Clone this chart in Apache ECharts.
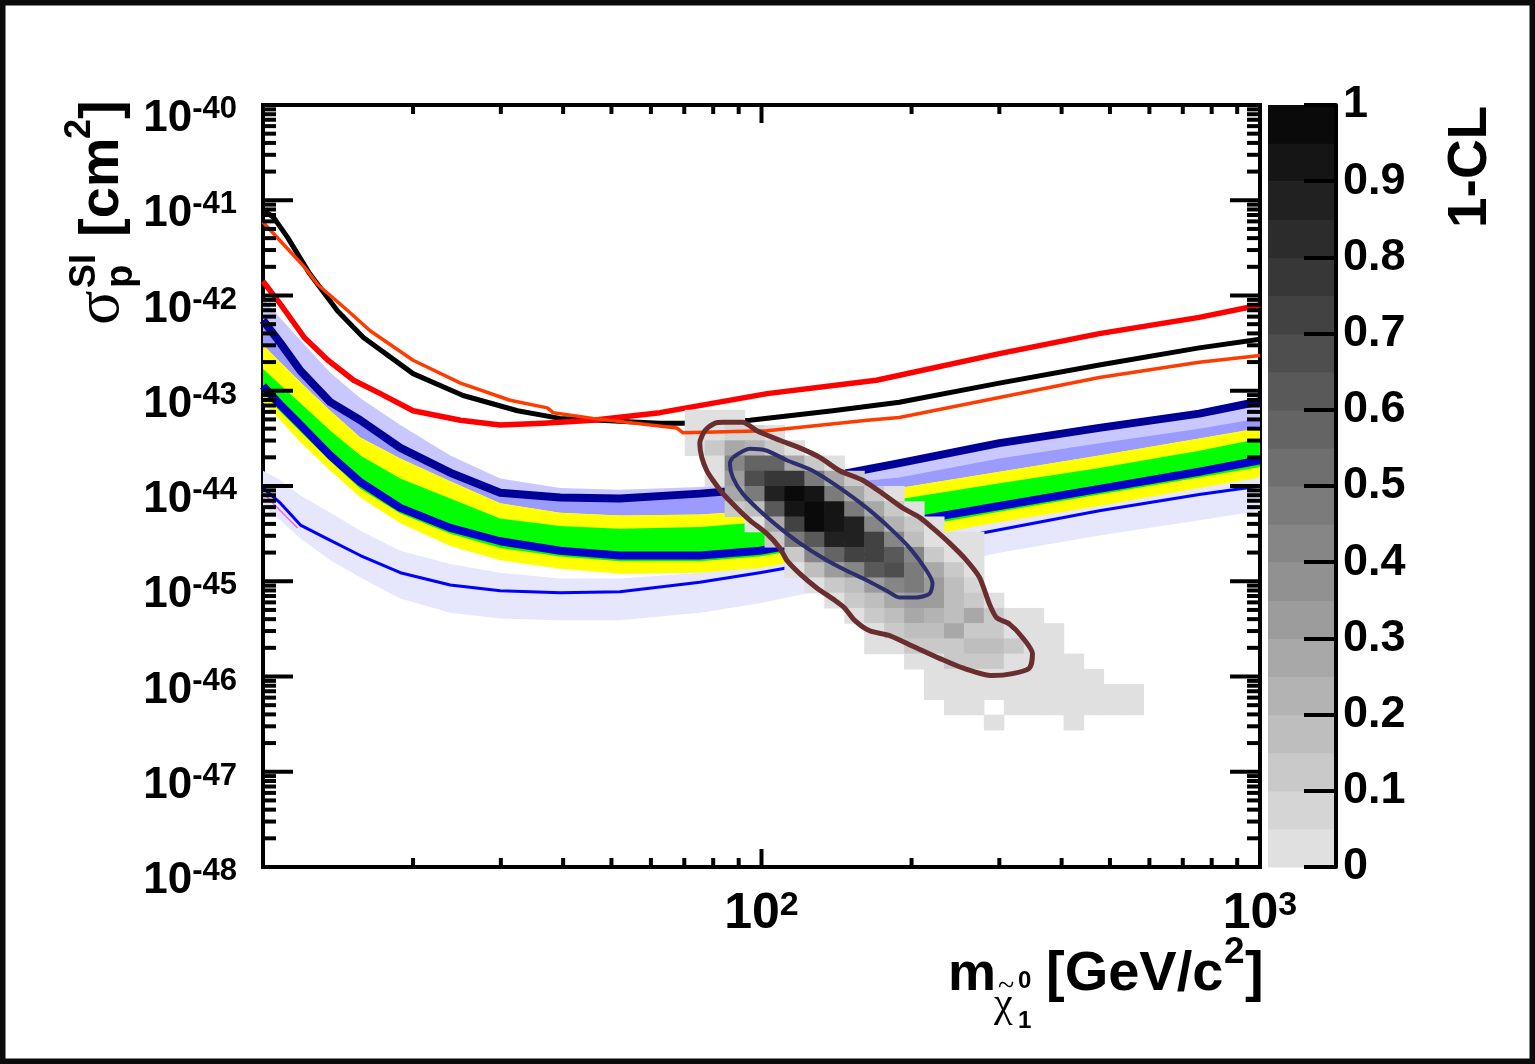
<!DOCTYPE html>
<html><head><meta charset="utf-8">
<script src="https://cdn.jsdelivr.net/npm/echarts@6/dist/echarts.min.js"></script>
<style>html,body{margin:0;padding:0;background:#fff;}#c{width:1535px;height:1064px;}</style>
</head><body><div id="c"></div>
<script>
// ---------------- DATA ----------------
// masses (GeV/c^2) at which the band edges are sampled
const bandMass = [10, 10.84, 11.89, 13.65, 15.68, 18.86, 23.75, 29.91, 39.45, 52.0, 75.2, 99.2, 137, 189, 300, 476, 755, 1000];
// log10(sigma / cm^2) of band edges / lines along bandMass
const lavenderTop   = [-42.03,-42.24,-42.47,-42.81,-43.08,-43.36,-43.68,-43.92,-44.02,-44.04,-44.01,-43.95,-43.86,-43.73,-43.52,-43.35,-43.21,-43.08];
const navyLine      = [-42.26,-42.50,-42.79,-43.12,-43.31,-43.60,-43.86,-44.07,-44.12,-44.13,-44.08,-44.03,-43.90,-43.76,-43.55,-43.39,-43.24,-43.11];
const periwinkleTop = [-42.26,-42.50,-42.79,-43.12,-43.31,-43.60,-43.86,-44.07,-44.12,-44.13,-44.08,-44.03,-43.98,-43.91,-43.71,-43.55,-43.40,-43.29];
const yellowTop     = [-42.52,-42.70,-42.91,-43.21,-43.49,-43.71,-43.95,-44.18,-44.28,-44.31,-44.30,-44.26,-44.15,-44.02,-43.85,-43.68,-43.50,-43.39];
const greenTop      = [-42.77,-42.94,-43.13,-43.42,-43.68,-43.92,-44.13,-44.34,-44.42,-44.45,-44.43,-44.38,-44.28,-44.14,-43.97,-43.81,-43.63,-43.50];
const blueLine      = [-42.95,-43.15,-43.36,-43.68,-43.96,-44.23,-44.44,-44.58,-44.68,-44.73,-44.73,-44.68,-44.55,-44.39,-44.21,-44.03,-43.85,-43.73];
const greenBottom   = [-43.02,-43.22,-43.43,-43.74,-44.03,-44.29,-44.50,-44.65,-44.74,-44.79,-44.79,-44.74,-44.62,-44.46,-44.27,-44.09,-43.91,-43.80];
const yellowBottom  = [-43.12,-43.31,-43.54,-43.84,-44.12,-44.39,-44.63,-44.78,-44.87,-44.92,-44.91,-44.86,-44.73,-44.57,-44.38,-44.21,-44.02,-43.91];
const thinBlueLine  = [-44.02,-44.18,-44.41,-44.57,-44.73,-44.91,-45.04,-45.10,-45.12,-45.11,-45.01,-44.91,-44.78,-44.66,-44.46,-44.26,-44.09,-44.00];
const paleTop       = [-43.84,-43.94,-44.10,-44.28,-44.47,-44.68,-44.82,-44.91,-44.97,-44.97,-44.91,-44.84,-44.68,-44.55,-44.36,-44.15,-43.94,-43.86];
const paleBottom    = [-44.21,-44.36,-44.55,-44.78,-44.96,-45.18,-45.33,-45.39,-45.41,-45.41,-45.33,-45.23,-45.08,-44.92,-44.70,-44.52,-44.36,-44.26];

const magentaMass = [10, 10.84, 11.73];
const magentaLog  = [-44.07, -44.26, -44.44];

const redMass = [10.0,10.8,12.1,13.5,15.2,17.2,20.0,24.9,29.9,36.5,45.9,62.5,102.6,170,300,476,755,1000];
const redLog  = [-41.85,-42.08,-42.44,-42.68,-42.89,-43.03,-43.21,-43.31,-43.36,-43.34,-43.31,-43.23,-43.03,-42.89,-42.61,-42.40,-42.23,-42.10];
const blackMass = [10.0,10.5,11.2,12.4,14.1,15.9,20.0,25.2,32.4,39.4,62.5,69.5,94.8,139,189,300,476,755,1000];
const blackLog  = [-41.10,-41.18,-41.39,-41.77,-42.16,-42.44,-42.82,-43.05,-43.21,-43.29,-43.34,-43.34,-43.31,-43.21,-43.12,-42.92,-42.73,-42.55,-42.46];
const orangeMass = [10.0,10.8,12.1,12.9,14.8,16.4,20.0,24.9,31.3,37.2,38.2,45.9,67.6,69.5,102.6,163,189,300,476,755,1000];
const orangeLog  = [-41.23,-41.42,-41.70,-41.89,-42.16,-42.37,-42.68,-42.92,-43.10,-43.18,-43.23,-43.29,-43.39,-43.44,-43.42,-43.31,-43.28,-43.07,-42.86,-42.70,-42.63];

// contours (mass, log10 sigma)
const brownMass = [83.7,91.7,97.9,108.8,119.3,130.9,143.5,159.6,175.0,191.9,207.5,220.3,238.4,257.8,273.7,286.6,296.0,314.4,333.8,349.6,344.8,318.8,290.6,253.1,227.6,202.8,180.7,164.8,153.8,146.8,140.3,129.1,119.3,112.4,108.8,102.5,94.8,89.2,83.7,79.9,77.7,75.9,75.2,77.0,80.6,83.7];
const brownLog  = [-43.33,-43.33,-43.42,-43.52,-43.60,-43.70,-43.84,-43.94,-44.08,-44.23,-44.33,-44.44,-44.60,-44.78,-44.96,-45.24,-45.38,-45.45,-45.59,-45.76,-45.91,-45.97,-45.99,-45.91,-45.81,-45.69,-45.57,-45.52,-45.41,-45.28,-45.20,-45.07,-44.92,-44.78,-44.65,-44.50,-44.36,-44.23,-44.08,-43.94,-43.84,-43.70,-43.55,-43.42,-43.34,-43.33];
const innerMass = [87.6,94.8,102.5,112.4,126.7,143.5,162.6,180.7,198.2,214.4,220.3,217.4,204.7,189.2,178.2,162.6,148.2,135.1,119.3,108.8,99.2,91.7,87.6,86.4,87.6];
const innerLog  = [-43.70,-43.61,-43.63,-43.73,-43.84,-44.02,-44.23,-44.44,-44.65,-44.89,-45.02,-45.13,-45.17,-45.17,-45.10,-44.99,-44.89,-44.78,-44.60,-44.44,-44.26,-44.08,-43.91,-43.76,-43.70];

// 2D histogram of 1-CL: bins in log10(mass) and log10(sigma)
const histLogMass0 = 1.846, histLogMassStep = 0.04;
const histLogSigma0 = -43.2, histLogSigmaStep = 0.16;
const histRowStart = [0,0,0,1,1,2,2,3,4,5,5,6,7,8,9,9,11,12,12,13,15];
const histRows = [
 [0.03,0.03,0.03],
 [0.03,0.03,0.08,0.08,0.03],
 [0.03,0.13,0.28,0.23,0.13,0.03],
 [0.03,0.43,0.58,0.58,0.28,0.13,0.03],
 [0.03,0.33,0.68,0.78,0.78,0.48,0.28,0.13],
 [0.28,0.48,0.88,0.98,0.93,0.48,0.28,0.13,0.03],
 [0.13,0.18,0.63,0.93,0.98,0.93,0.48,0.28,0.13,0.03],
 [0.03,0.28,0.73,0.98,0.93,0.88,0.43,0.23,0.13,0.03],
 [0.13,0.48,0.63,0.88,0.88,0.73,0.43,0.18,0.03,0.03,0.03],
 [0.13,0.43,0.58,0.73,0.73,0.63,0.43,0.13,0.03,0.03],
 [0.03,0.18,0.33,0.43,0.63,0.68,0.48,0.28,0.13,0.03],
 [0.03,0.13,0.18,0.33,0.43,0.48,0.33,0.18,0.08],
 [0.03,0.13,0.18,0.28,0.33,0.33,0.18,0.13,0.03],
 [0.03,0.13,0.18,0.28,0.23,0.18,0.28,0.13,0.03,0.03],
 [0.03,0.13,0.18,0.18,0.28,0.13,0.13,0.03,0.03,0.03],
 [0.03,0.03,0.13,0.13,0.13,0.18,0.18,0.13,0.03,0.03],
 [0.03,0.03,0.13,0.13,0.13,0.03,0.03,0.03,0.03],
 [0.03,0.03,0.03,0.03,0.03,0.03,0.03,0.03,0.03],
 [0.03,0.03,0.03,0.03,0.03,0.03,0.03,0.03,0.03,0.03,0.03],
 [0.03,0.03,null,0.03,0.03,0.03,0.03,0.03,0.03,0.03],
 [0.03,null,null,null,0.03]
];

// axis ticks
const xMajorTicks = [10, 100, 1000];
const xMinorTicks = [20,30,40,50,60,70,80,90,200,300,400,500,600,700,800,900];
const yMajorExp = [-48,-47,-46,-45,-44,-43,-42,-41,-40];
const yMinorMult = [2,3,4,5,6,7,8,9];
const colorbarLevels = 20;

// ---------------- BUILD ----------------
const FONT = '"Liberation Sans", Arial, Helvetica, sans-serif';
const SERIF = '"Liberation Serif", "DejaVu Serif", serif';
const grays = [];
for (let k = 0; k < colorbarLevels; k++) {
  const g = Math.round(224 - k * 214 / (colorbarLevels - 1));
  grays.push('rgb(' + g + ',' + g + ',' + g + ')');
}
const p10 = v => Math.pow(10, v);
// y axis is drawn in log10(sigma) units, x axis is a log10 mass axis
const pairs = (ms, ls) => ms.map((m, i) => [m, ls[i]]);

function band(upper, lower, color, z) {
  return {
    type: 'custom', z: z, silent: true, clip: true,
    data: [[bandMass[0], upper[0]]],
    renderItem: function (params, api) {
      const pts = [];
      for (let i = 0; i < bandMass.length; i++) pts.push(api.coord([bandMass[i], upper[i]]));
      for (let i = bandMass.length - 1; i >= 0; i--) pts.push(api.coord([bandMass[i], lower[i]]));
      return { type: 'polygon', shape: { points: pts }, style: { fill: color } };
    }
  };
}
function line(data, color, width, z, smooth) {
  return { type: 'line', z: z, data: data, symbol: 'none', showSymbol: false, silent: true, smooth: smooth || false,
    lineStyle: { color: color, width: width, join: 'round', cap: 'butt' }, clip: true };
}

const histCells = [];
histRows.forEach((vals, r) => vals.forEach((v, j) => {
  if (v == null) return;
  const c = histRowStart[r] + j;
  histCells.push([
    p10(histLogMass0 + c * histLogMassStep), p10(histLogMass0 + (c + 1) * histLogMassStep),
    histLogSigma0 - r * histLogSigmaStep, histLogSigma0 - (r + 1) * histLogSigmaStep, v]);
}));

const yTickData = [];
yMajorExp.forEach(e => yTickData.push([10, e, 1]));
yMajorExp.slice(0, -1).forEach(e => yMinorMult.forEach(k => yTickData.push([10, e + Math.log10(k), 0])));
const xTickData = [];
xMajorTicks.forEach(v => xTickData.push([v, -44, 1]));
xMinorTicks.forEach(v => xTickData.push([v, -44, 0]));

const cbData = [];
for (let k = 0; k < colorbarLevels; k++) cbData.push([0, 1, k / colorbarLevels, (k + 1) / colorbarLevels, k]);

const chart = echarts.init(document.getElementById('c'), null, { renderer: 'canvas' });
const supRich = {
  b: { fontSize: 44, fontWeight: 'bold', fontFamily: FONT, color: '#000', lineHeight: 50 },
  s: { fontSize: 31, fontWeight: 'bold', fontFamily: FONT, color: '#000', lineHeight: 10, verticalAlign: 'top' }
};
const xRich = {
  b: { fontSize: 50, fontWeight: 'bold', fontFamily: FONT, color: '#000', lineHeight: 50 },
  s: { fontSize: 34, fontWeight: 'bold', fontFamily: FONT, color: '#000', lineHeight: 10, verticalAlign: 'top' }
};

const option = {
  animation: false,
  backgroundColor: '#fff',
  grid: [
    { left: 263, top: 105, width: 997, height: 762, show: true, borderColor: '#000', borderWidth: 4, backgroundColor: 'transparent' },
    { left: 1268, top: 105, width: 68, height: 762, show: false }
  ],
  xAxis: [
    { type: 'log', logBase: 10, min: 10, max: 1000, splitNumber: 2, gridIndex: 0,
      axisLine: { show: false }, axisTick: { show: false }, splitLine: { show: false }, minorTick: { show: false },
      axisLabel: { margin: 22, showMaxLabel: true, showMinLabel: true,
        formatter: v => { const e = Math.round(Math.log10(v)); return e === 1 ? '' : '{b|10}{s|' + e + '}'; },
        rich: xRich } },
    { type: 'value', min: 0, max: 1, gridIndex: 1, show: false }
  ],
  yAxis: [
    { type: 'value', min: -48, max: -40, interval: 1, gridIndex: 0,
      axisLine: { show: false }, axisTick: { show: false }, splitLine: { show: false },
      axisLabel: { margin: 26, padding: [28, 0, 0, 0], showMaxLabel: true, showMinLabel: true,
        formatter: v => '{b|10}{s|' + Math.round(v) + '}', rich: supRich } },
    { type: 'value', min: 0, max: 1, interval: 0.1, gridIndex: 1, position: 'right', z: 10,
      axisLine: { show: true, onZero: false, lineStyle: { color: '#000', width: 4 } },
      axisTick: { show: true, inside: true, length: 32, lineStyle: { color: '#000', width: 4 } },
      splitLine: { show: false },
      axisLabel: { margin: 7, padding: [10, 0, 0, 0], color: '#000', fontSize: 45, fontWeight: 'bold', fontFamily: FONT,
        showMaxLabel: true, showMinLabel: true,
        formatter: v => (Math.abs(v - 1) < 1e-9 ? '1' : (Math.abs(v) < 1e-9 ? '0' : v.toFixed(1))) } }
  ],
  series: [
    band(paleTop, paleBottom, '#e6e6fd', 1),
    band(lavenderTop, yellowTop, '#c8c8ff', 2),
    band(periwinkleTop, yellowTop, '#9a9aff', 3),
    band(yellowTop, yellowBottom, '#ffff00', 4),
    band(greenTop, greenBottom, '#00ff00', 5),
    line(pairs(magentaMass, magentaLog), '#ee66ee', 1.5, 6),
    line(pairs(bandMass, thinBlueLine), '#0000ff', 3, 7),
    line(pairs(bandMass, blueLine), '#0000cc', 8, 8),
    line(pairs(bandMass, navyLine), '#000099', 8, 9),
    line(pairs(blackMass, blackLog), '#000000', 5, 10),
    line(pairs(redMass, redLog), '#ff0000', 5.5, 11),
    { type: 'custom', z: 12, silent: true, clip: true, data: histCells, encode: { x: [0, 1], y: [2, 3] },
      renderItem: function (params, api) {
        const a = api.coord([api.value(0), api.value(2)]);
        const b = api.coord([api.value(1), api.value(3)]);
        const lvl = Math.min(colorbarLevels - 1, Math.floor(api.value(4) * colorbarLevels));
        return { type: 'rect', shape: { x: a[0], y: a[1], width: b[0] - a[0] + 0.6, height: b[1] - a[1] + 0.6 },
          style: { fill: grays[lvl] } };
      } },
    line(pairs(orangeMass, orangeLog), '#ff3c00', 3.5, 13),
    line(pairs(brownMass, brownLog), '#6a2e2e', 5, 14, 0.25),
    line(pairs(innerMass, innerLog), '#2e2e6c', 4, 15, 0.25),
    { type: 'custom', z: 20, silent: true, data: yTickData, encode: { x: 0, y: 1 },
      renderItem: function (params, api) {
        const cs = params.coordSys;
        const y = api.coord([api.value(0), api.value(1)])[1];
        const len = api.value(2) ? 30 : 13;
        const st = { stroke: '#000', lineWidth: 4 };
        return { type: 'group', children: [
          { type: 'line', shape: { x1: cs.x, y1: y, x2: cs.x + len, y2: y }, style: st },
          { type: 'line', shape: { x1: cs.x + cs.width, y1: y, x2: cs.x + cs.width - len, y2: y }, style: st }
        ] };
      } },
    { type: 'custom', z: 20, silent: true, data: xTickData, encode: { x: 0, y: 1 },
      renderItem: function (params, api) {
        const cs = params.coordSys;
        const x = api.coord([api.value(0), api.value(1)])[0];
        const len = api.value(2) ? 18 : 9;
        const st = { stroke: '#000', lineWidth: 4 };
        return { type: 'group', children: [
          { type: 'line', shape: { x1: x, y1: cs.y + cs.height, x2: x, y2: cs.y + cs.height - len }, style: st },
          { type: 'line', shape: { x1: x, y1: cs.y, x2: x, y2: cs.y + len }, style: st }
        ] };
      } },
    { type: 'custom', xAxisIndex: 1, yAxisIndex: 1, z: 2, silent: true, data: cbData, encode: { x: [0, 1], y: [2, 3] },
      renderItem: function (params, api) {
        const a = api.coord([api.value(0), api.value(3)]);
        const b = api.coord([api.value(1), api.value(2)]);
        return { type: 'rect', shape: { x: a[0], y: a[1], width: b[0] - a[0] - 2, height: b[1] - a[1] + 0.6 },
          style: { fill: grays[api.value(4)] } };
      } }
  ],
  graphic: [
    { type: 'group', x: 123, y: 325, rotation: Math.PI / 2, silent: true, children: [
      { type: 'text', x: 0, y: -22, style: { text: 'σ', font: '64px ' + SERIF, fill: '#000', verticalAlign: 'middle' } },
      { type: 'text', x: 37, y: -1, style: { text: 'p', font: 'bold 38px ' + FONT, fill: '#000', verticalAlign: 'middle' } },
      { type: 'text', x: 37, y: -38, style: { text: 'SI', font: 'bold 36px ' + FONT, fill: '#000', verticalAlign: 'middle' } },
      { type: 'text', x: 88, y: -20, style: { text: '[cm', font: 'bold 56px ' + FONT, fill: '#000', verticalAlign: 'middle' } },
      { type: 'text', x: 186, y: -43, style: { text: '2', font: 'bold 36px ' + FONT, fill: '#000', verticalAlign: 'middle' } },
      { type: 'text', x: 206, y: -20, style: { text: ']', font: 'bold 56px ' + FONT, fill: '#000', verticalAlign: 'middle' } }
    ] },
    { type: 'group', x: 948, y: 995, silent: true, children: [
      { type: 'text', x: 0, y: -20, style: { text: 'm', font: 'bold 54px ' + FONT, fill: '#000', verticalAlign: 'middle' } },
      { type: 'text', x: 46, y: 10, style: { text: 'χ', font: '42px ' + SERIF, fill: '#000', verticalAlign: 'middle' } },
      { type: 'text', x: 50, y: -8, style: { text: '~', font: '30px ' + SERIF, fill: '#000', verticalAlign: 'middle' } },
      { type: 'text', x: 70, y: -14, style: { text: '0', font: 'bold 24px ' + FONT, fill: '#000', verticalAlign: 'middle' } },
      { type: 'text', x: 70, y: 26, style: { text: '1', font: 'bold 24px ' + FONT, fill: '#000', verticalAlign: 'middle' } },
      { type: 'text', x: 98, y: -20, style: { text: '[GeV/c', font: 'bold 56px ' + FONT, fill: '#000', verticalAlign: 'middle' } },
      { type: 'text', x: 276, y: -42, style: { text: '2', font: 'bold 37px ' + FONT, fill: '#000', verticalAlign: 'middle' } },
      { type: 'text', x: 297, y: -20, style: { text: ']', font: 'bold 56px ' + FONT, fill: '#000', verticalAlign: 'middle' } }
    ] },
    { type: 'text', x: 1471, y: 228, rotation: Math.PI / 2, silent: true,
      style: { text: '1-CL', font: 'bold 55px ' + FONT, fill: '#000', verticalAlign: 'middle' } },
    { type: 'rect', silent: true, z: 100, shape: { x: 0, y: 0, width: 1535, height: 1064 },
      style: { fill: 'none', stroke: '#0c0c0c', lineWidth: 11 } }
  ]
};
chart.setOption(option);
</script>
</body></html>
